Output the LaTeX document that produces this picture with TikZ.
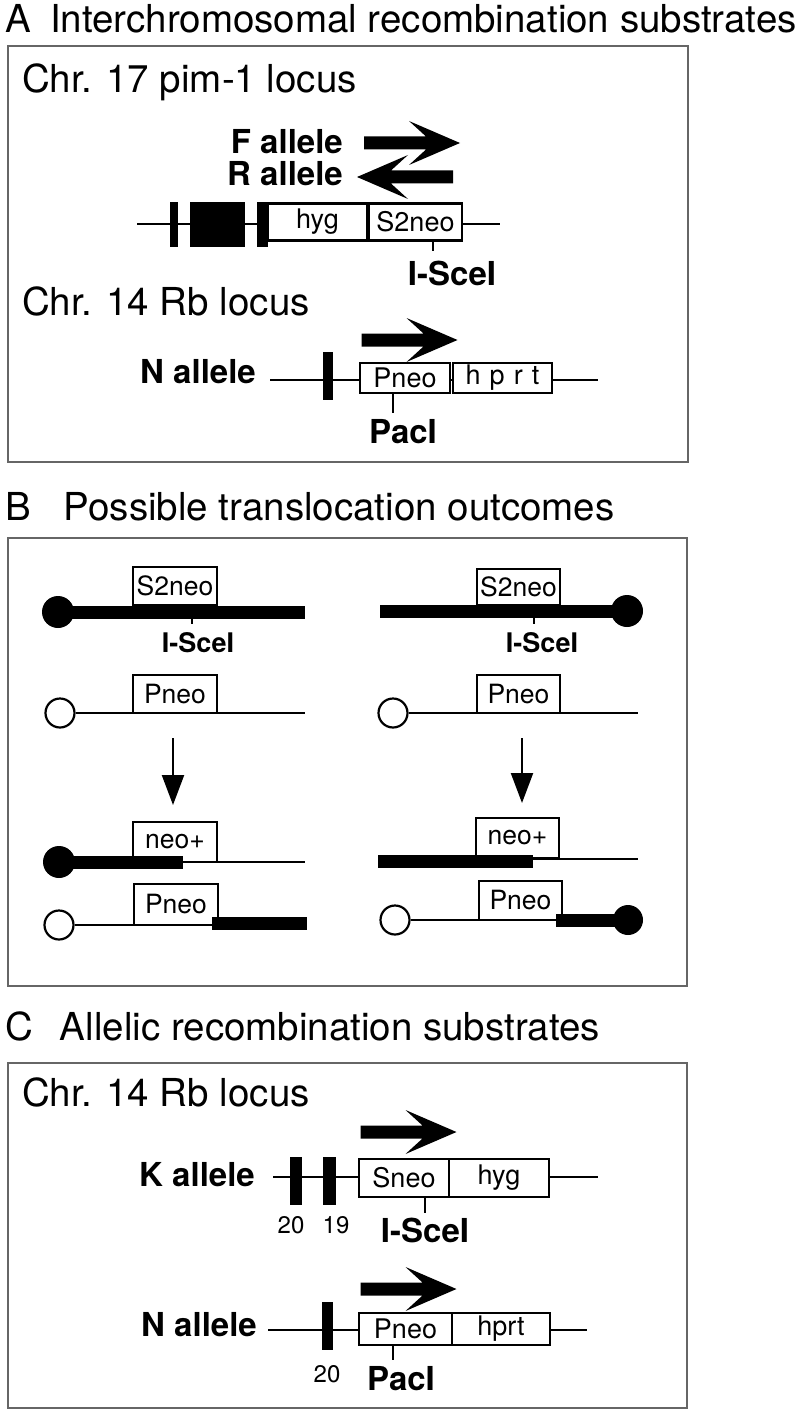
\documentclass[tikz,border=0pt]{standalone}
\usepackage{fontspec}
\setmainfont{TeX Gyre Heros}
\usetikzlibrary{arrows.meta}
\begin{document}
\begin{tikzpicture}[x=1pt,y=-1pt,
  panelbox/.style={draw=black!60, line width=1.5pt},
  hdr/.style={font=\fontsize{38.5}{42}\selectfont, anchor=base west, inner sep=0pt},
  lbl/.style={font=\bfseries\fontsize{33}{35}\selectfont, inner sep=0pt},
  lblB/.style={font=\bfseries\fontsize{27}{29}\selectfont, inner sep=0pt, anchor=base},
  num/.style={font=\fontsize{24}{26}\selectfont, inner sep=0pt, anchor=base},
  gbox/.style={draw, line width=2.2pt, fill=white, inner sep=0pt, font=\fontsize{27}{29}\selectfont},
  bbox/.style={draw, line width=2.2pt, fill=white, inner sep=0pt, font=\fontsize{26.5}{28}\selectfont},
  gline/.style={line width=2.2pt},
  chrom/.style={line width=13pt, line cap=butt},
  cenfull/.style={circle, fill=black, minimum size=32pt, inner sep=0pt},
  cenopen/.style={circle, draw=black, line width=2.2pt, fill=white, minimum size=29pt, inner sep=0pt},
  downarrow/.style={line width=2.2pt, -{Triangle[length=30pt,width=22pt]}},
  bigarrow/.pic={\fill (-48,-6.5) -- (14,-6.5) -- (-3,-22) -- (48,0) -- (-3,22) -- (14,6.5) -- (-48,6.5) -- cycle;}
]
\useasboundingbox (0,0) rectangle (800,1415);

% ---------------- Panel A ----------------
\node[hdr] (tA) at (5,33) {A\hspace{0.5em}Interchromosomal recombination substrates};
\draw[panelbox] (8,46) rectangle (688,462);
\node[hdr] (chr17) at (22,93) {Chr. 17 pim-1 locus};
\node[lbl, anchor=base east] (Fal) at (343,154) {F allele};
\node[lbl, anchor=base east] (Ral) at (343,186) {R allele};
\pic at (412,143) {bigarrow};
\pic[xscale=-1] at (405,177) {bigarrow};
\coordinate (a1l) at (137,224);
\coordinate (a1r) at (500,224);
\draw[gline] (a1l) -- (a1r);
\fill (170,202) rectangle (178,247);
\fill (190,202) rectangle (245,247);
\fill (257,202) rectangle (268,247);
\node[gbox, minimum width=99pt, minimum height=37pt] (hygA) at (317.5,222) {hyg};
\node[gbox, minimum width=93pt, minimum height=37pt] (s2neoA) at (415.5,222) {S2neo};
\draw[gline] (433,240.5) -- (433,251);
\node[lbl, anchor=base] (isceA) at (452,285) {I-SceI};

\node[hdr] (chr14A) at (22,315) {Chr. 14 Rb locus};
\pic at (409.5,340) {bigarrow};
\node[lbl, anchor=base east] (NalA) at (256,383) {N allele};
\coordinate (a2l) at (270,380);
\coordinate (a2r) at (598,380);
\draw[gline] (a2l) -- (a2r);
\fill (323,352) rectangle (333,400);
\node[gbox, minimum width=90pt, minimum height=30pt] (pneoA) at (405,378) {Pneo};
\node[gbox, minimum width=99pt, minimum height=30pt] (hprtA) at (502.5,378) {h\,\,p\,\,r\,\,t};
\draw[gline] (393,393) -- (393,413);
\node[lbl, anchor=base] (pacA) at (403,443) {PacI};

% ---------------- Panel B ----------------
\node[hdr] (tB) at (5,520) {B\hspace{0.85em}Possible translocation outcomes};
\draw[panelbox] (8,538) rectangle (687,986);

% left column
\node[cenfull] (cL1) at (58,612) {};
\coordinate (eL1) at (305,612);
\draw[chrom] (cL1.center) -- (eL1);
\node[bbox, minimum width=84pt, minimum height=38pt] (s2L) at (175,586) {S2neo};
\draw[gline] (192,618) -- (192,624);
\node[lblB] (isL) at (198,652) {I-SceI};

\node[cenopen] (cL2) at (60,713) {};
\coordinate (eL2) at (305,713);
\draw[gline] (cL2) -- (eL2);
\node[bbox, minimum width=84pt, minimum height=38pt] (pL2) at (175,694) {Pneo};

\coordinate (dL1) at (173,738);
\coordinate (dL2) at (173,805);
\draw[downarrow] (dL1) -- (dL2);

\coordinate (eL3) at (305,862);
\coordinate (jL3) at (183,862);
\draw[gline] (jL3) -- (eL3);
\node[bbox, minimum width=84pt, minimum height=40pt] (nL3) at (175,842) {neo+};
\node[cenfull] (cL3) at (59,862) {};
\draw[chrom] (cL3.center) -- (jL3);

\node[cenopen] (cL4) at (59,925) {};
\coordinate (jL4) at (212,925);
\draw[gline] (cL4) -- (jL4);
\node[bbox, minimum width=84pt, minimum height=41pt] (pL4) at (176,904.5) {Pneo};
\coordinate (jL4b) at (212,923.5);
\coordinate (eL4) at (307,923.5);
\draw[chrom] (jL4b) -- (eL4);

% right column
\node[cenfull] (cR1) at (627,611) {};
\coordinate (eR1) at (380,611);
\draw[chrom] (eR1) -- (cR1.center);
\node[bbox, minimum width=83pt, minimum height=36pt] (s2R) at (518.5,587) {S2neo};
\draw[gline] (534,617) -- (534,624);
\node[lblB] (isR) at (542,652) {I-SceI};

\node[cenopen] (cR2) at (393,713) {};
\coordinate (eR2) at (638,713);
\draw[gline] (cR2) -- (eR2);
\node[bbox, minimum width=83pt, minimum height=38pt] (pR2) at (518.5,694) {Pneo};

\coordinate (dR1) at (522,738);
\coordinate (dR2) at (522,803);
\draw[downarrow] (dR1) -- (dR2);

\coordinate (jR3) at (533,859);
\coordinate (eR3) at (638,859);
\draw[gline] (jR3) -- (eR3);
\node[bbox, minimum width=83pt, minimum height=40pt] (nR3) at (517.5,838) {neo+};
\coordinate (sR3) at (378,861.5);
\coordinate (jR3b) at (533,861.5);
\draw[chrom] (sR3) -- (jR3b);

\node[cenopen] (cR4) at (395,920) {};
\coordinate (jR4) at (556,920);
\draw[gline] (cR4) -- (jR4);
\node[bbox, minimum width=83pt, minimum height=39pt] (pR4) at (520.5,900.5) {Pneo};
\node[cenfull, minimum size=30pt] (cR4b) at (628,920) {};
\draw[chrom] (jR4) -- (cR4b.center);

% ---------------- Panel C ----------------
\node[hdr] (tC) at (5,1040) {C\hspace{0.7em}Allelic recombination substrates};
\draw[panelbox] (8,1063) rectangle (687,1408);
\node[hdr] (chr14C) at (22,1106) {Chr. 14 Rb locus};

\pic at (408.5,1132) {bigarrow};
\node[lbl, anchor=base east] (Kal) at (255,1186) {K allele};
\coordinate (c1l) at (273,1177);
\coordinate (c1r) at (598,1177);
\draw[gline] (c1l) -- (c1r);
\fill (290,1157) rectangle (302,1205);
\fill (323,1157) rectangle (336,1205);
\node[gbox, minimum width=90pt, minimum height=38pt] (sneoC) at (404,1178) {Sneo};
\node[gbox, minimum width=100pt, minimum height=38pt] (hygC) at (499,1178) {hyg};
\draw[gline] (425,1197) -- (425,1213);
\node[lbl, anchor=base] (isC) at (425,1242) {I-SceI};
\node[num] (n20a) at (291,1233) {20};
\node[num] (n19) at (336,1233) {19};

\pic at (408.5,1289) {bigarrow};
\node[lbl, anchor=base east] (NalC) at (257,1336) {N allele};
\coordinate (c2l) at (268,1330);
\coordinate (c2r) at (587,1330);
\draw[gline] (c2l) -- (c2r);
\fill (322,1302) rectangle (333,1350);
\node[gbox, minimum width=93pt, minimum height=32pt] (pneoC) at (405.5,1329) {Pneo};
\node[gbox, minimum width=98pt, minimum height=32pt] (hprtC) at (501,1329) {hprt};
\draw[gline] (393,1345) -- (393,1360);
\node[num] (n20b) at (327,1382) {20};
\node[lbl, anchor=base] (pacC) at (401,1390) {PacI};
\end{tikzpicture}
\end{document}
